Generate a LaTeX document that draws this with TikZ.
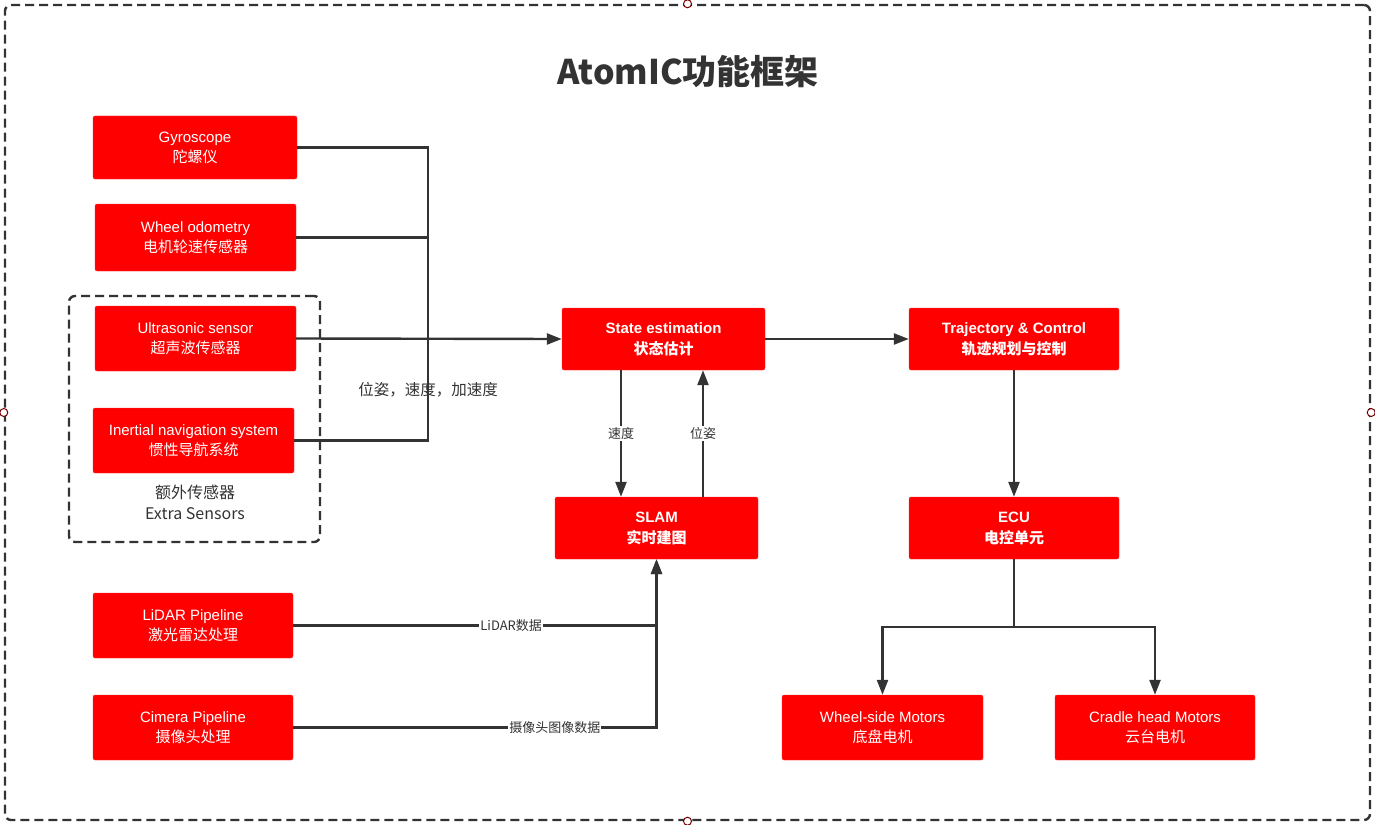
\documentclass[tikz,border=0pt]{standalone}
\usepackage{fontspec}
\setmainfont{Liberation Sans}
\newfontfamily\cjk{Noto Sans CJK SC}
\usetikzlibrary{arrows.meta}
\definecolor{boxred}{HTML}{FF0000}
\definecolor{linegray}{HTML}{333333}
\tikzset{
  block/.style    = {shape=rectangle, rounded corners=2pt,
                     draw=red!80!white, fill=boxred, text=white,
                     align=center, inner sep=0pt,
                     minimum width=201pt, minimum height=64pt,
                     font=\fontsize{15}{20}\selectfont},
  keyblock/.style = {block, minimum height=62pt,
                     font=\fontsize{15}{21}\selectfont\bfseries},
  wire/.style     = {draw=linegray, line width=2.4pt},
  flow/.style     = {wire, -{Triangle[length=15pt,width=11pt]}},
  tag/.style      = {fill=white, inner sep=1pt, text=linegray,
                     font=\cjk\fontsize{13}{15}\selectfont},
  frame/.style    = {draw=linegray, line width=2.4pt,
                     dash pattern=on 9pt off 5pt, rounded corners=6pt},
  handle/.style   = {circle, draw=red!45!black, fill=white,
                     inner sep=0pt, minimum size=8pt, line width=1pt}
}
\begin{document}
\begin{tikzpicture}[x=1pt, y=-1pt]
  \useasboundingbox (0,0) rectangle (1375,824);

  % outer frame and title
  \node (frame) [frame, minimum width=1365pt, minimum height=815pt] at (687.5,412.5) {};
  \node (title) [text=linegray] at (688,72) {\cjk\bfseries\fontsize{34}{40}\selectfont AtomIC功能框架};

  % sensors
  \node (extra) [frame, minimum width=251pt, minimum height=246pt] at (194.5,419) {};
  \node (gyro)  [block, minimum width=204pt, minimum height=63pt] at (195,147.5) {Gyroscope\\{\cjk 陀螺仪}};
  \node (wheel) [block, minimum height=67pt] at (195.5,237.5) {Wheel odometry\\{\cjk 电机轮速传感器}};
  \node (ultra) [block, minimum height=65pt] at (195.5,338.5) {Ultrasonic sensor\\{\cjk 超声波传感器}};
  \node (ins)   [block, minimum height=65pt] at (193.5,440.5) {Inertial navigation system\\{\cjk 惯性导航系统}};
  \node (extra-label) [align=center, text=linegray, font=\cjk\fontsize{16}{21}\selectfont] at (195,502) {额外传感器\\Extra Sensors};
  \node (lidar) [block, minimum width=200pt, minimum height=65pt] at (193,625.5) {LiDAR Pipeline\\{\cjk 激光雷达处理}};
  \node (cam)   [block, minimum width=200pt, minimum height=65pt] at (193,727.5) {Cimera Pipeline\\{\cjk 摄像头处理}};

  % processing
  \node (state) [keyblock, minimum width=203pt] at (663.5,339) {State estimation\\{\cjk 状态估计}};
  \node (slam)  [keyblock, minimum width=203pt] at (656.5,528) {SLAM\\{\cjk 实时建图}};
  \node (traj)  [keyblock, minimum width=210pt] at (1014,339) {Trajectory \& Control\\{\cjk 轨迹规划与控制}};
  \node (ecu)   [keyblock, minimum width=210pt] at (1014,528) {ECU\\{\cjk 电控单元}};
  \node (wmot)  [block, minimum height=65pt] at (882.5,727.5) {Wheel-side Motors\\{\cjk 底盘电机}};
  \node (cmot)  [block, minimum width=200pt, minimum height=65pt] at (1155,727.5) {Cradle head Motors\\{\cjk 云台电机}};

  % sensor bus
  \coordinate (bus) at (428,339);
  \draw [wire] (gyro.east) -| (bus);
  \draw [wire] (ins.east) -| (bus);
  \draw [wire] (wheel.east) -- (wheel.east -| bus);
  \draw [flow] (ultra.east) -- (state.west);
  \draw [wire] (bus) -- ([xshift=-16pt]state.west);
  \node (bus-label) [text=linegray, font=\cjk\fontsize{15.5}{18}\selectfont] at (428,390) {位姿，速度，加速度};

  \draw [flow] (state.east) -- (traj.west);
  \draw [flow] ([xshift=-42.5pt]state.south) -- ([xshift=-42.5pt]state.south |- slam.north)
        node [tag, midway] {速度};
  \draw [flow] ([xshift=46.5pt]slam.north) -- ([xshift=46.5pt]slam.north |- state.south)
        node [tag, midway] {位姿};
  \draw [flow] (lidar.east) -| node [tag, pos=0.3] {LiDAR数据} (slam.south);
  \draw [flow] (cam.east) -| node [tag, pos=0.36] {摄像头图像数据} (slam.south);

  \draw [flow] (traj.south) -- (ecu.north);
  \coordinate (split) at (1014,627);
  \draw [wire] (ecu.south) -- (split);
  \draw [flow] (split) -| (wmot.north);
  \draw [flow] (split) -| (cmot.north);

  % selection handles
  \foreach \side in {north, south, east, west}
    \node [handle] at (frame.\side) {};
\end{tikzpicture}
\end{document}
